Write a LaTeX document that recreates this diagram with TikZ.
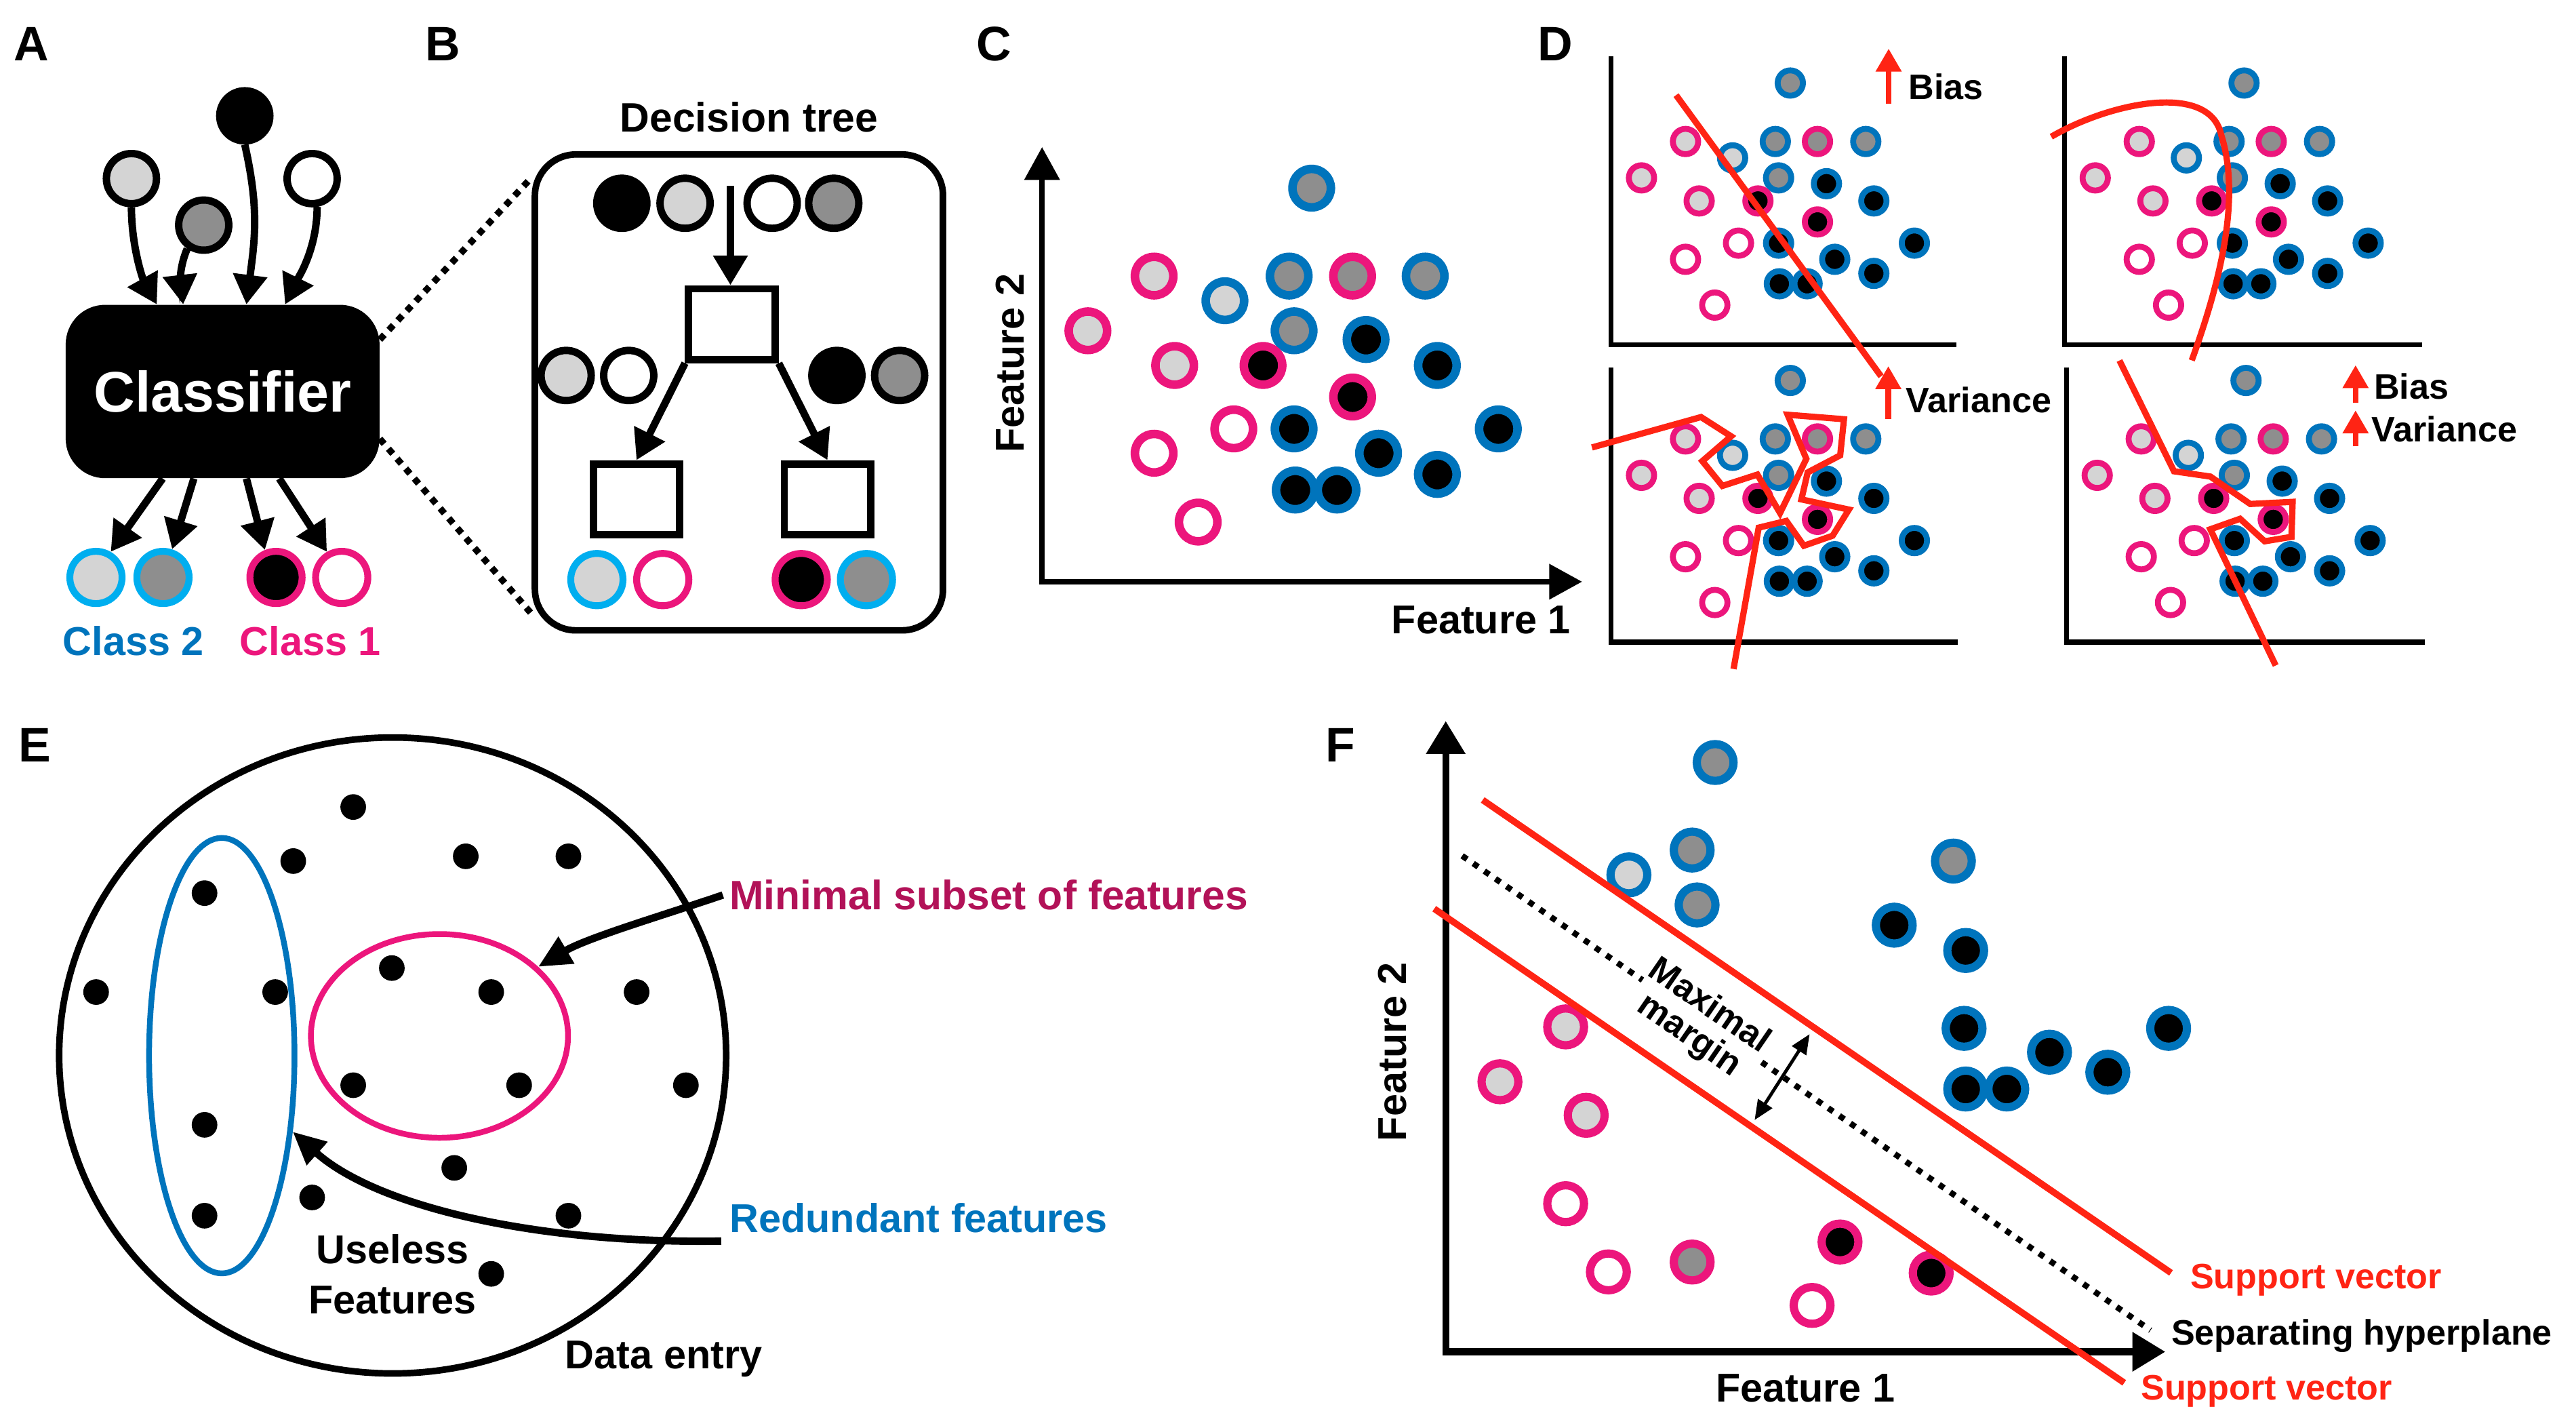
\documentclass[tikz,border=0pt]{standalone}
\usepackage{fontspec}
\setmainfont{Liberation Sans}
\usepackage{xcolor}
\usepackage{tikz}
\usetikzlibrary{arrows.meta, positioning, shapes.geometric, calc}

\definecolor{cyanring}{RGB}{0,174,239}
\definecolor{bluering}{RGB}{0,116,188}
\definecolor{pinkring}{RGB}{236,22,124}
\definecolor{crimson}{RGB}{178,18,88}
\definecolor{fitred}{RGB}{255,36,20}
\definecolor{lgrey}{RGB}{212,212,212}
\definecolor{dgrey}{RGB}{142,142,142}

% scatter of panels C and D: offset right / up from the origin, ring, core
\newcommand{\scatterpts}{164.1/239.5/bluering/dgrey, 68.2/186/pinkring/lgrey,
  111.3/171/bluering/lgrey, 150.4/186/bluering/dgrey, 189/186/pinkring/dgrey,
  233.2/186/bluering/dgrey, 27.9/152.7/pinkring/lgrey, 153.4/152.7/bluering/dgrey,
  197.2/147.4/bluering/black, 80.7/131.6/pinkring/lgrey, 134.5/131.6/pinkring/black,
  240.6/131.6/bluering/black, 189/112.4/pinkring/black, 116.7/93/pinkring/white,
  153.4/93/bluering/black, 277.7/93/bluering/black, 68.2/78.2/pinkring/white,
  204.8/78.2/bluering/black, 240.6/65.3/bluering/black, 154.1/55.8/bluering/black,
  179.5/55.8/bluering/black, 95/36.3/pinkring/white}

% #1,#2 origin, #3 scale, #4 radius, #5 ring width
\newcommand{\drawscatter}[5]{%
  \foreach \dx/\dy/\rc/\cc in \scatterpts {
    \draw[draw=\rc, fill=\cc, line width=#5] ({#1+#3*\dx},{#2-#3*\dy}) circle[radius=#4];
  }%
}

\begin{document}
\begin{tikzpicture}[
    x=1pt, y=-1pt,
    lbl/.style={font=\fontsize{24.5}{30.6}\selectfont\bfseries, inner sep=0pt},
    panel/.style={font=\fontsize{29.5}{34}\selectfont\bfseries, inner sep=0pt, anchor=base west},
    dlbl/.style={font=\fontsize{21.5}{26}\selectfont\bfseries, inner sep=0pt, anchor=base west},
    flbl/.style={font=\fontsize{21.5}{26}\selectfont\bfseries, inner sep=0pt, anchor=base west},
    ball/.style={circle, draw=black, line width=4.5pt, minimum size=30.5pt, inner sep=0pt},
    ringball/.style={circle, line width=4.2pt, minimum size=31.8pt, inner sep=0pt},
    clfbox/.style={rectangle, fill=black, rounded corners=24pt, minimum width=191pt,
        minimum height=105.5pt, text=white, font=\fontsize{34.8}{40}\selectfont\bfseries},
    leaf/.style={rectangle, draw=black, line width=4.5pt, minimum width=52.6pt,
        minimum height=43pt, inner sep=0pt},
    flow/.style={-{Triangle[length=18pt,width=20pt]}, line width=4.5pt},
    zoomline/.style={line width=4pt, dash pattern=on 4pt off 4pt},
    axisline/.style={line width=3.2pt, {Triangle[length=20pt,width=21pt]}-{Triangle[length=20pt,width=21pt]}},
    faxis/.style={line width=4.2pt, {Triangle[length=20pt,width=23pt]}-{Triangle[length=20pt,width=23pt]}},
    plainaxis/.style={line width=3pt},
    fitline/.style={fitred, line width=3.8pt},
    upmark/.style={fitred, line width=3.4pt, -{Triangle[length=14pt,width=15pt]}},
    pointer/.style={-{Triangle[length=20pt,width=18pt]}, line width=4.5pt},
    svline/.style={fitred, line width=4pt},
    hyper/.style={line width=3.6pt, dash pattern=on 3.6pt off 4.6pt},
    marginarrow/.style={line width=2pt, {Triangle[length=12pt,width=10pt]}-{Triangle[length=12pt,width=10pt]}}
]
\useasboundingbox (0,0) rectangle (1568,869);

% Panel A: classifier
\node[panel] (labA) at (8.4,36.8) {A};
\node[clfbox] (clf) at (135.5,238.25) {Classifier};
\node[ball, fill=black] (inK) at (149,70.5) {};
\node[ball, fill=lgrey] (inL) at (80,108.7) {};
\node[ball, fill=dgrey] (inD) at (124,137) {};
\node[ball, fill=white] (inW) at (190,108.7) {};
\draw[flow] (inL.south) .. controls (80,150) and (87,170) .. ([xshift=-40pt]clf.north);
\draw[flow] (inD.235) .. controls (109,163) and (110,172) .. ([xshift=-24pt]clf.north);
\draw[flow] (inK.south) .. controls (158,128) and (155,146) .. ([xshift=14.5pt]clf.north);
\draw[flow] (inW.-80) .. controls (193,152) and (181,170) .. ([xshift=38pt]clf.north);

\node[ringball, draw=cyanring, fill=lgrey] (outL) at (58.4,351.4) {};
\node[ringball, draw=cyanring, fill=dgrey] (outD) at (99.2,351.4) {};
\node[ringball, draw=pinkring, fill=black] (outK) at (168,351.4) {};
\node[ringball, draw=pinkring, fill=white] (outW) at (208,351.4) {};
\draw[flow] ([xshift=-36.5pt]clf.south) -- (outL.60);
\draw[flow] ([xshift=-17.5pt]clf.south) -- (outD.72);
\draw[flow] ([xshift=14.5pt]clf.south) -- (outK.112);
\draw[flow] ([xshift=34.5pt]clf.south) -- (outW.120);
\node[lbl, text=bluering, anchor=base] (cls2) at (81.2,398.9) {Class 2};
\node[lbl, text=pinkring, anchor=base] (cls1) at (188.9,398.9) {Class 1};

% Panel B: decision tree
\node[panel] (labB) at (258.7,36.8) {B};
\node[draw, line width=4pt, rounded corners=25pt, minimum width=248.4pt, minimum height=289.6pt] (tree) at (449.8,238.8) {};
\node[lbl, font=\fontsize{25}{30}\selectfont\bfseries, anchor=base] (treetitle) at (456,80.3) {Decision tree};
\node[ball, fill=black] (t1) at (378.5,123.7) {};
\node[ball, fill=lgrey] (t2) at (417,123.7) {};
\node[ball, fill=white] (t3) at (470,123.7) {};
\node[ball, fill=dgrey] (t4) at (507.5,123.7) {};
\coordinate (split) at (444.6,113);
\node[leaf] (root) at (445.5,197.3) {};
\node[leaf] (leftleaf) at (387.4,303.8) {};
\node[leaf] (rightleaf) at (503.7,303.8) {};
\draw[flow] (split) -- (split |- root.north);
\draw[flow] (root.south west) -- (leftleaf.north);
\draw[flow] (root.south east) -- (rightleaf.north);
\node[ball, fill=lgrey] (m1) at (344.6,228.5) {};
\node[ball, fill=white] (m2) at (382.7,228.5) {};
\node[ball, fill=black] (m3) at (509.4,228.5) {};
\node[ball, fill=dgrey] (m4) at (547.6,228.5) {};
\node[ringball, draw=cyanring, fill=lgrey] (r1) at (363.3,352.7) {};
\node[ringball, draw=pinkring, fill=white] (r2) at (403.4,352.7) {};
\node[ringball, draw=pinkring, fill=black] (r3) at (487.7,352.7) {};
\node[ringball, draw=cyanring, fill=dgrey] (r4) at (527.4,352.7) {};
\draw[zoomline] ([yshift=31.6pt]clf.east) -- ([yshift=-16pt]tree.north west);
\draw[zoomline] ([yshift=-28.8pt]clf.east) -- ([yshift=12pt]tree.south west);

% Panel C: feature space
\node[panel] (labC) at (594,36.8) {C};
\coordinate (cO) at (634.3,354);
\draw[axisline] (634.3,89.5) -- (cO) -- (963,354);
\drawscatter{634.3}{354}{1}{11.7pt}{5.2pt}
\node[lbl, rotate=90] (cy) at (614.9,221) {Feature 2};
\node[lbl, anchor=base] (cx) at (901.5,385.6) {Feature 1};

% Panel D: bias and variance
\node[panel] (labD) at (935.7,36.8) {D};
\draw[plainaxis] (980.6,34.2) -- (980.6,209.8) -- (1190.7,209.8);
\drawscatter{980.6}{209.8}{0.665}{7.7pt}{3.6pt}
\draw[plainaxis] (1256.8,34.2) -- (1256.8,209.8) -- (1474.2,209.8);
\drawscatter{1256.8}{209.8}{0.665}{7.7pt}{3.6pt}
\draw[plainaxis] (980.6,223.7) -- (980.6,390.8) -- (1191.5,390.8);
\drawscatter{980.6}{390.8}{0.665}{7.7pt}{3.6pt}
\draw[plainaxis] (1258,223.7) -- (1258,390.8) -- (1476,390.8);
\drawscatter{1258}{390.8}{0.665}{7.7pt}{3.6pt}

\draw[fitline] (1020.2,57.9) -- (1145,229);
\draw[fitline] (1248.6,83.2) .. controls (1285,62) and (1345,50) .. (1352,82)
    .. controls (1364,120) and (1352,170) .. (1334.1,219.3);
\draw[fitline] (969,272.3) -- (1035.4,253.8) -- (1053.7,265.5) -- (1036.2,280.6)
    -- (1048.4,295.7) -- (1069.7,288.8) -- (1083.5,312.2) -- (1099.5,279.2)
    -- (1088.1,252.4) -- (1122.4,255.1) -- (1120.1,277.1) -- (1100.3,287.5)
    -- (1096.5,303.9) -- (1125.4,310.1) -- (1115.5,326) -- (1098,332.1)
    -- (1087.3,317) -- (1070.5,321.1) -- (1055.2,407.1);
\draw[fitline] (1290.1,219.4) -- (1323.3,286.8) -- (1345.4,290) -- (1369.7,306.7)
    -- (1395.5,305.4) -- (1394.8,326.7) -- (1378.5,329.4) -- (1363.5,315.7)
    -- (1345.4,322.1) -- (1385.2,405);

\node[dlbl] (biasA) at (1161.5,60.5) {Bias};
\draw[upmark] ([xshift=-11.9pt,yshift=-2.8pt]biasA.base west) -- ([xshift=-11.9pt,yshift=30.9pt]biasA.base west);
\node[dlbl] (varA) at (1160,251.2) {Variance};
\draw[upmark] ([xshift=-10.6pt,yshift=-3.9pt]varA.base west) -- ([xshift=-10.6pt,yshift=28.4pt]varA.base west);
\node[dlbl] (biasB) at (1444.9,242.8) {Bias};
\draw[upmark] ([xshift=-11.1pt,yshift=-2.1pt]biasB.base west) -- ([xshift=-11.1pt,yshift=20.6pt]biasB.base west);
\node[dlbl] (varB) at (1443.5,268.9) {Variance};
\draw[upmark] ([xshift=-9.7pt,yshift=-2.8pt]varB.base west) -- ([xshift=-9.7pt,yshift=19.2pt]varB.base west);

% Panel E: feature selection
\node[panel] (labE) at (11,463.5) {E};
\node[ellipse, draw, line width=4pt, minimum width=406pt, minimum height=387pt, inner sep=0pt] (entry) at (239,642.3) {};
\node[ellipse, draw=bluering, line width=3.5pt, minimum width=88.5pt, minimum height=265pt, inner sep=0pt] (redund) at (135,642.4) {};
\node[ellipse, draw=pinkring, line width=3.5pt, minimum width=156.5pt, minimum height=124pt, inner sep=0pt] (minimal) at (267.5,630.4) {};
\foreach \x/\y in {215/491.1, 178.5/524, 283.5/521.1, 346/521.1, 124.5/543.5, 58.5/603.7,
    167.5/603.7, 238.5/589.1, 299/603.7, 387.5/603.7, 215/660.4, 316/660.4, 417.5/660.4,
    124.5/684.5, 276.5/710.7, 190/728.7, 124.5/739.8, 346/739.8, 299/775.2}
  \fill (\x,\y) circle[radius=7.8pt];
\node[lbl, font=\fontsize{25}{30}\selectfont\bfseries, text=crimson, anchor=base west] (minlab) at (444,553.6) {Minimal subset of features};
\draw[pointer] ([xshift=-4pt]minlab.west) .. controls (405,556.6) and (357.8,570.5) .. (minimal.35);
\node[lbl, text=bluering, anchor=base west] (redlab) at (444,750) {Redundant features};
\draw[pointer] ([xshift=-5pt,yshift=-14pt]redlab.west) .. controls (329,757) and (230,735) .. (redund.-47);
\node[lbl, align=center] (useless) at (239,775.3) {Useless\\Features};
\node[lbl, anchor=base] (entrylab) at (404,832.8) {Data entry};

% Panel F: support vector machine
\node[panel] (labF) at (806.5,463.5) {F};
\coordinate (fO) at (880,822.6);
\draw[faxis] (880,438.8) -- (fO) -- (1318,822.6);
\foreach \x/\y/\rc/\cc in {1044/464/bluering/dgrey, 1030/517.3/bluering/dgrey,
    991.5/532.4/bluering/lgrey, 1033/550.7/bluering/dgrey, 1189/524/bluering/dgrey,
    1153/563/bluering/black, 1196.5/578.4/bluering/black, 1195.5/625.8/bluering/black,
    1320/625.8/bluering/black, 1247.5/640.3/bluering/black, 1283/652.5/bluering/black,
    1196.5/662.7/bluering/black, 1221.5/662.7/bluering/black, 953/624.9/pinkring/lgrey,
    913/658.3/pinkring/lgrey, 965.5/678.7/pinkring/lgrey, 953/732.5/pinkring/white,
    979/774/pinkring/white, 1030/768/pinkring/dgrey, 1120/755.8/pinkring/black,
    1175.5/774.7/pinkring/black, 1103/794.4/pinkring/white}
  \draw[draw=\rc, fill=\cc, line width=5pt] (\x,\y) circle[radius=11.2pt];
\coordinate (hypa) at (890,520.8);
\coordinate (hypb) at (1309,809.5);
\draw[hyper] (hypa) -- (hypb);
\node[lbl, font=\fontsize{21.5}{21.5}\selectfont\bfseries, fill=white, rotate=-34.5, align=center] (maxlab) at (1034,621.6) {Maximal\\margin};
\coordinate (svAa) at (902.5,486.8);
\coordinate (svAb) at (1321.5,774.6);
\coordinate (svBa) at (873,553);
\coordinate (svBb) at (1293,841.5);
\draw[svline] (svAa) -- (svAb);
\draw[svline] (svBa) -- (svBb);
\coordinate (mtop) at (1101.5,629.3);
\coordinate (mbot) at (1068,681.6);
\draw[marginarrow] (mtop) -- (mbot);
\node[flbl, text=fitred] (svAlab) at (1333,784) {Support vector};
\node[flbl] (hyplab) at (1321.5,818.3) {Separating hyperplane};
\node[flbl, text=fitred] (svBlab) at (1303,851.7) {Support vector};
\node[lbl, rotate=90] (fy) at (847.5,640) {Feature 2};
\node[lbl, anchor=base] (fx) at (1099,853.2) {Feature 1};

\end{tikzpicture}
\end{document}
